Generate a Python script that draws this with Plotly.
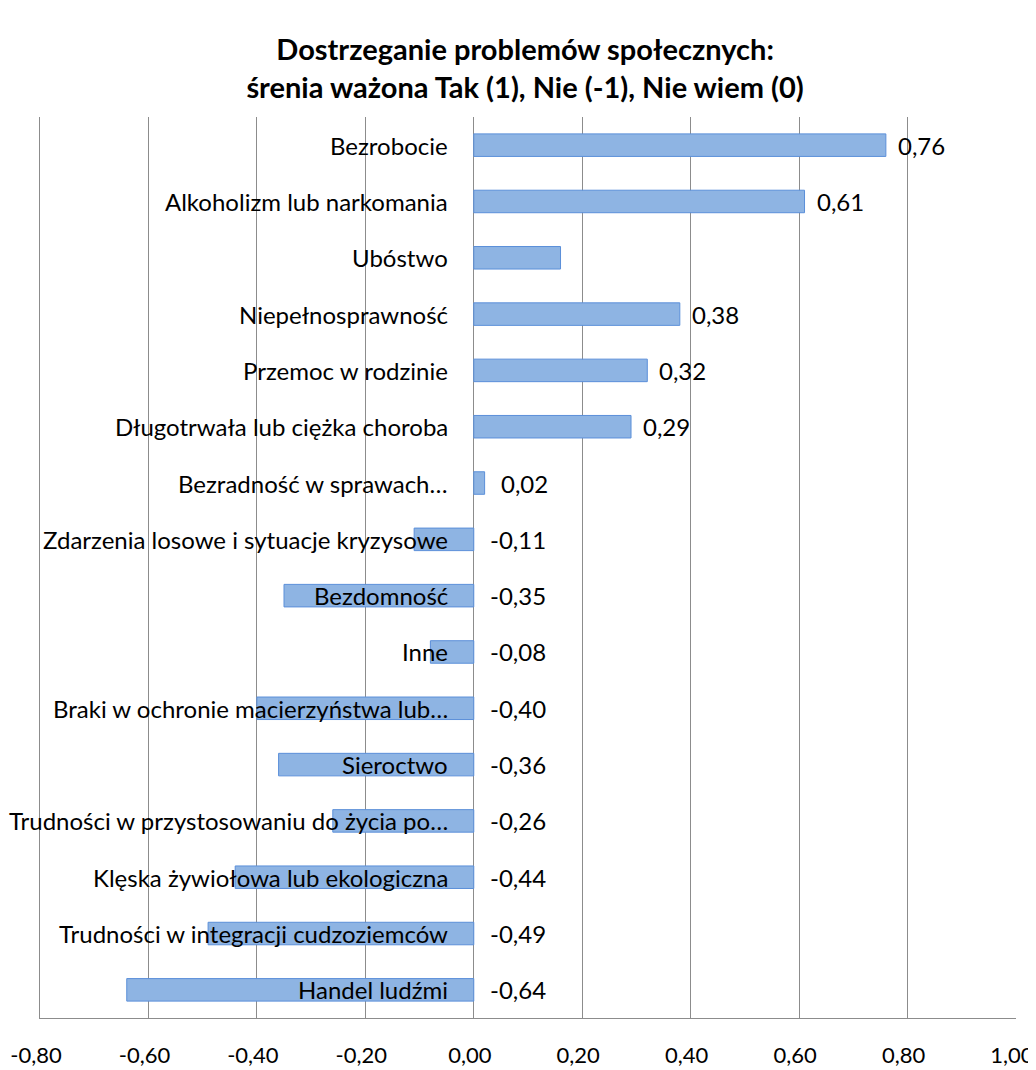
import plotly.graph_objects as go

categories = [
    "Bezrobocie",
    "Alkoholizm lub narkomania",
    "Ubóstwo",
    "Niepełnosprawność",
    "Przemoc w rodzinie",
    "Długotrwała lub ciężka choroba",
    "Bezradność w sprawach…",
    "Zdarzenia losowe i sytuacje kryzysowe",
    "Bezdomność",
    "Inne",
    "Braki w ochronie macierzyństwa lub…",
    "Sieroctwo",
    "Trudności w przystosowaniu do życia po…",
    "Klęska żywiołowa lub ekologiczna",
    "Trudności w integracji cudzoziemców",
    "Handel ludźmi",
]
values = [0.76, 0.61, 0.16, 0.38, 0.32, 0.29, 0.02, -0.11, -0.35, -0.08,
          -0.40, -0.36, -0.26, -0.44, -0.49, -0.64]
value_labels = ["0,76", "0,61", "", "0,38", "0,32", "0,29", "0,02", "-0,11",
                "-0,35", "-0,08", "-0,40", "-0,36", "-0,26", "-0,44", "-0,49", "-0,64"]
tick_vals = [-0.8, -0.6, -0.4, -0.2, 0.0, 0.2, 0.4, 0.6, 0.8, 1.0]
tick_labels = ["-0,80", "-0,60", "-0,40", "-0,20", "0,00", "0,20", "0,40", "0,60", "0,80", "1,00"]

FONT = "Lato"

fig = go.Figure()
fig.add_trace(go.Bar(
    x=values, y=categories, orientation="h", width=0.4,
    marker=dict(color="#8EB4E3", line=dict(color="#5B8FD9", width=1)),
    hoverinfo="skip",
))

annotations = []
for cat, v, lab in zip(categories, values, value_labels):
    annotations.append(dict(
        x=0, y=cat, xref="x", yref="y", text=cat, showarrow=False,
        xanchor="right", yanchor="middle", xshift=-24,
        font=dict(family=FONT, size=24, color="#000000"),
    ))
    if lab:
        annotations.append(dict(
            x=max(v, 0), y=cat, xref="x", yref="y", text=lab, showarrow=False,
            xanchor="left", yanchor="middle", xshift=(10 if v > 0.05 else 14),
            font=dict(family=FONT, size=24, color="#000000"),
        ))

fig.update_layout(
    width=1028, height=1062,
    margin=dict(l=32, r=20, t=109, b=52),
    paper_bgcolor="white", plot_bgcolor="white",
    showlegend=False,
    title=dict(
        text="<b>Dostrzeganie problemów społecznych:</b><br><b>śrenia ważona Tak (1), Nie (-1), Nie wiem (0)</b>",
        x=0.503, xanchor="center", y=0.951, yanchor="top",
        font=dict(family=FONT, size=29, color="#000000"),
    ),
    annotations=annotations,
    xaxis=dict(
        range=[-0.8, 1.0], tickvals=tick_vals, ticktext=tick_labels,
        showgrid=True, gridcolor="#8C8C8C", gridwidth=1,
        zeroline=True, zerolinecolor="#8C8C8C", zerolinewidth=1,
        showline=True, linecolor="#8C8C8C", linewidth=1, mirror=False,
        ticks="", ticklabelstandoff=18, ticklabelshift=-4, automargin=False,
        ticklabeloverflow="allow",
        tickfont=dict(family=FONT, size=22, color="#000000"),
    ),
    yaxis=dict(
        categoryorder="array", categoryarray=categories, autorange="reversed",
        showticklabels=False, showgrid=False, zeroline=False, automargin=False,
        showline=True, linecolor="#8C8C8C", linewidth=1, ticks="",
    ),
)

fig.write_html("out.html")
